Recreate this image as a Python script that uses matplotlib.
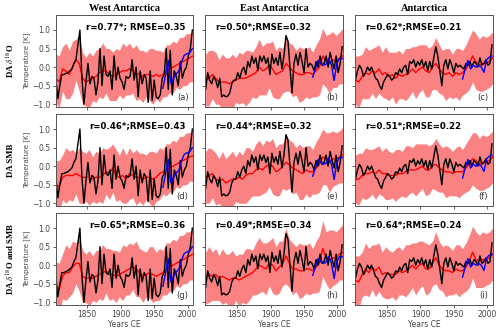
import matplotlib
matplotlib.use("Agg")
import matplotlib.pyplot as plt
import numpy as np

plt.rcParams["mathtext.fontset"] = "stix"

# --- data ----------------------------------------------------------------
# black reconstruction, one value every 3 years from 1803 to 2007
years_black = np.arange(1803, 2008, 3)
black_west = [-0.30, -0.85, -0.50, -0.20, -0.20, -0.17, -0.15, -0.10, -0.05, 0.10,
              0.20, 0.60, 1.00, -0.30, -1.00, -0.40, 0.10, -0.45, -0.25, -0.30,
              -0.75, -0.40, 0.50, -0.50, 0.30, -0.20, -0.25, -0.10, -0.60, 0.30,
              -0.35, 0.00, -0.30, -0.40, -0.60, -0.25, -0.30, -0.25, 0.20, -0.35,
              0.00, -0.80, -0.10, -0.45, -0.20, -0.30, -0.95, -0.10, -0.90, -0.35,
              -0.80, -0.85, -0.75, -0.30, -0.20, 0.50, -0.60, 0.45, -0.75, -0.10,
              -0.25, -0.50, 0.15, -0.30, -0.10, 0.00, 0.30, 0.50, 1.00]
black_east = [-0.60, -0.15, -0.35, -0.45, -0.25, -0.35, -0.55, -0.30, -0.80, -0.75,
              -0.80, -0.78, -0.70, -0.45, -0.35, -0.35, -0.15, -0.30, -0.10, 0.00,
              -0.20, 0.15, 0.00, 0.30, 0.10, 0.25, -0.10, 0.30, 0.15, 0.30,
              0.10, 0.25, -0.20, 0.35, 0.10, 0.25, 0.05, 0.40, -0.05, 0.30,
              0.85, 0.70, 0.00, -0.70, 0.10, 0.35, 0.05, 0.40, 0.15, -0.15,
              0.50, 0.00, 0.10, 0.05, -0.10, 0.15, 0.00, 0.30, 0.05, 0.10,
              0.30, 0.00, 0.40, 0.15, -0.05, 0.30, -0.15, 0.10, 0.55]
black_ant = [-0.35, -0.10, 0.05, -0.05, -0.25, -0.15, 0.00, -0.10, 0.00, -0.15,
             -0.30, -0.35, -0.50, -0.60, -0.40, -0.30, -0.20, -0.25, -0.35, -0.30,
             -0.15, -0.20, -0.05, -0.15, 0.00, 0.05, -0.20, 0.15, 0.10, 0.20,
             0.00, 0.15, 0.05, 0.20, 0.00, 0.15, -0.10, 0.15, -0.05, 0.25,
             0.55, 0.30, -0.10, -0.50, 0.05, 0.20, -0.05, 0.20, 0.05, -0.15,
             0.10, 0.00, 0.05, 0.00, -0.05, 0.10, 0.05, 0.15, 0.00, 0.15,
             0.10, 0.00, 0.25, 0.05, 0.10, 0.20, 0.05, 0.10, 0.60]

# blue instrumental series
years_blue = [1963, 1967, 1971, 1975, 1979, 1983, 1987, 1991, 1995, 1999, 2003, 2007]
blue_west = [-0.57, -0.20, 0.18, -0.45, -0.30, -0.18, -0.10, 0.15, 0.32, 0.36, 0.38, 0.50]
blue_east = [-0.27, -0.05, 0.18, 0.10, 0.05, 0.08, 0.23, 0.05, -0.36, 0.10, 0.23, 0.23]
blue_ant = [-0.32, -0.05, 0.18, -0.05, 0.05, 0.00, 0.05, 0.00, -0.14, 0.20, 0.27, 0.30]

# red DA mean, one value every 5 years from 1803 to 2008
years_da = np.arange(1803, 2009, 5)
red = {
    "a": [-0.30, -0.40, -0.05, -0.10, -0.20, 0.00, 0.20, 0.10, -0.30, -0.40,
          -0.35, -0.30, -0.25, -0.15, -0.10, -0.10, -0.20, -0.25, -0.20, -0.15,
          -0.10, -0.10, -0.05, -0.10, -0.15, -0.20, -0.25, -0.20, -0.20, -0.25,
          -0.20, -0.25, -0.20, -0.10, -0.05, 0.00, 0.05, 0.10, 0.15, 0.20,
          0.25, 0.30],
    "d": [-0.50, -0.55, -0.30, -0.25, -0.25, -0.25, -0.20, -0.25, -0.30, -0.30,
          -0.30, -0.35, -0.30, -0.30, -0.25, -0.15, -0.20, -0.05, -0.25, -0.30,
          -0.25, -0.35, -0.20, -0.25, -0.30, -0.30, -0.35, -0.30, -0.30, -0.35,
          -0.30, -0.20, -0.15, -0.10, -0.05, 0.00, 0.05, 0.10, 0.15, 0.20,
          0.25, 0.28],
    "g": [-0.55, -0.65, -0.30, -0.20, -0.20, -0.05, 0.05, 0.05, -0.30, -0.35,
          -0.35, -0.35, -0.30, -0.25, -0.20, -0.15, -0.25, -0.25, -0.30, -0.25,
          -0.20, -0.15, -0.10, -0.05, -0.10, -0.20, -0.30, -0.25, -0.20, -0.25,
          -0.30, -0.25, -0.20, -0.10, -0.05, 0.00, 0.05, 0.10, 0.15, 0.20,
          0.25, 0.30],
    "b": [-0.35, -0.30, -0.20, -0.30, -0.40, -0.40, -0.40, -0.45, -0.40, -0.35,
          -0.30, -0.30, -0.30, -0.25, -0.20, -0.15, 0.00, -0.10, -0.05, 0.05,
          -0.05, -0.20, -0.15, -0.10, 0.10, 0.00, -0.10, -0.15, -0.20, -0.20,
          -0.15, -0.15, -0.20, -0.10, 0.00, 0.30, 0.15, 0.10, 0.20, 0.15,
          0.25, 0.30],
    "e": [-0.30, -0.25, -0.20, -0.35, -0.40, -0.35, -0.45, -0.40, -0.35, -0.35,
          -0.30, -0.35, -0.25, -0.20, -0.20, -0.10, -0.05, -0.10, 0.00, 0.05,
          0.00, -0.15, -0.10, 0.00, 0.10, 0.05, -0.05, -0.10, -0.15, -0.20,
          -0.10, -0.15, -0.15, -0.05, 0.05, 0.25, 0.20, 0.10, 0.20, 0.20,
          0.25, 0.30],
    "h": [-0.35, -0.25, -0.30, -0.25, -0.35, -0.30, -0.35, -0.40, -0.35, -0.35,
          -0.40, -0.35, -0.30, -0.25, -0.20, -0.10, 0.00, -0.05, -0.10, 0.05,
          0.00, -0.15, -0.05, 0.05, 0.25, 0.05, -0.10, -0.10, -0.15, -0.15,
          -0.10, -0.10, -0.15, -0.05, 0.05, 0.45, 0.20, 0.15, 0.20, 0.20,
          0.30, 0.35],
    "c": [-0.35, -0.40, -0.25, -0.15, -0.20, -0.10, -0.15, -0.05, -0.20, -0.15,
          -0.25, -0.20, -0.30, -0.20, -0.25, -0.20, -0.15, -0.05, -0.15, -0.05,
          0.00, -0.10, -0.15, 0.00, 0.10, -0.05, -0.15, -0.20, -0.15, -0.25,
          -0.15, -0.20, -0.15, -0.05, 0.10, 0.30, 0.15, 0.05, 0.10, 0.10,
          0.15, 0.25],
    "f": [-0.35, -0.35, -0.25, -0.20, -0.20, -0.15, -0.20, -0.10, -0.20, -0.20,
          -0.25, -0.25, -0.25, -0.20, -0.20, -0.15, -0.10, -0.10, -0.10, -0.05,
          0.00, -0.10, -0.10, 0.00, 0.05, -0.05, -0.10, -0.15, -0.15, -0.20,
          -0.15, -0.15, -0.15, -0.05, 0.05, 0.20, 0.15, 0.05, 0.10, 0.10,
          0.15, 0.25],
    "i": [-0.40, -0.45, -0.25, -0.10, -0.20, -0.05, -0.15, -0.05, -0.25, -0.20,
          -0.25, -0.25, -0.25, -0.15, -0.20, -0.15, -0.10, 0.00, -0.10, 0.00,
          0.05, -0.10, -0.10, 0.05, 0.20, 0.00, -0.10, -0.15, -0.15, -0.20,
          -0.10, -0.15, -0.15, -0.05, 0.10, 0.35, 0.15, 0.10, 0.15, 0.15,
          0.20, 0.30],
}

# half width of the pink DA spread, per region
spread_west = [0.65, 0.70, 0.60, 0.75, 0.65, 0.70, 0.55, 0.75, 0.70, 0.65,
               0.75, 0.60, 0.70, 0.65, 0.75, 0.60, 0.70, 0.65, 0.70, 0.60,
               0.75, 0.65, 0.70, 0.60, 0.75, 0.65, 0.70, 0.60, 0.70, 0.75,
               0.65, 0.70, 0.60, 0.70, 0.65, 0.70, 0.60, 0.70, 0.65, 0.70,
               0.65, 0.70]
spread_east = [0.70, 0.75, 0.65, 0.70, 0.60, 0.75, 0.65, 0.70, 0.75, 0.60,
               0.70, 0.65, 0.75, 0.70, 0.60, 0.70, 0.75, 0.65, 0.70, 0.60,
               0.75, 0.65, 0.70, 0.60, 0.75, 0.65, 0.70, 0.60, 0.75, 0.70,
               0.65, 0.70, 0.60, 0.70, 0.75, 0.75, 0.70, 0.80, 0.75, 0.70,
               0.70, 0.75]
spread_ant = [0.65, 0.70, 0.60, 0.70, 0.65, 0.60, 0.70, 0.65, 0.60, 0.70,
              0.65, 0.60, 0.70, 0.65, 0.60, 0.70, 0.65, 0.60, 0.70, 0.65,
              0.60, 0.70, 0.65, 0.60, 0.70, 0.65, 0.60, 0.70, 0.65, 0.60,
              0.65, 0.70, 0.60, 0.65, 0.70, 0.70, 0.75, 0.70, 0.75, 0.70,
              0.70, 0.70]

regions = ["West Antarctica", "East Antarctica", "Antarctica"]
row_names = [r"DA $\delta^{18}$O", "DA SMB", r"DA $\delta^{18}$O and SMB"]
panel_ids = [["a", "b", "c"], ["d", "e", "f"], ["g", "h", "i"]]
stats = [["r=0.77*; RMSE=0.35", "r=0.50*;RMSE=0.32", "r=0.62*;RMSE=0.21"],
         ["r=0.46*;RMSE=0.43", "r=0.44*;RMSE=0.32", "r=0.51*;RMSE=0.22"],
         ["r=0.65*;RMSE=0.36", "r=0.49*;RMSE=0.34", "r=0.64*;RMSE=0.24"]]

blacks = [black_west, black_east, black_ant]
blues = [blue_west, blue_east, blue_ant]
spreads = [spread_west, spread_east, spread_ant]

# --- figure ---------------------------------------------------------------
fig, axes = plt.subplots(3, 3, figsize=(5.0, 3.29), dpi=100, sharex=True, sharey=True)
fig.subplots_adjust(left=0.111, right=0.986, top=0.954, bottom=0.072,
                    wspace=0.087, hspace=0.076)

for i in range(3):
    for j in range(3):
        ax = axes[i, j]
        pid = panel_ids[i][j]
        mean = np.array(red[pid])
        sp = np.array(spreads[j])
        ax.fill_between(years_da, mean - sp, mean + sp, color="#fa8282", lw=0)
        ax.plot(years_da, mean, color="red", lw=1.0)
        ax.plot(years_black, blacks[j], color="black", lw=1.0)
        ax.plot(years_blue, blues[j], color="blue", lw=1.0)

        ax.set_xlim(1802.5, 2008.5)
        ax.set_ylim(-1.08, 1.4)
        ax.set_xticks([1850, 1900, 1950, 2000])
        ax.set_yticks([-1.0, -0.5, 0.0, 0.5, 1.0])
        ax.tick_params(labelsize=5.5, length=2.5, width=0.6, colors="#444444",
                       pad=1.0)
        for s in ax.spines.values():
            s.set_color("#555555")
            s.set_linewidth(0.7)

        if j == 0:
            ax.text(0.945, 0.88, stats[i][j], transform=ax.transAxes, ha="right",
                    va="center", fontsize=6.2, fontweight="bold")
            ax.set_ylabel("Temperature [K]", fontsize=5, color="#444444", labelpad=1.5)
        else:
            ax.text(0.07, 0.88, stats[i][j], transform=ax.transAxes, ha="left",
                    va="center", fontsize=6.2, fontweight="bold")
        ax.text(0.965, 0.06, "(%s)" % pid, transform=ax.transAxes, ha="right",
                va="bottom", fontsize=6, color="#333333")
        if i == 0:
            ax.set_title(regions[j], fontsize=7.5, fontweight="bold",
                         family="Liberation Serif", pad=3)
        if i == 2:
            ax.set_xlabel("Years CE", fontsize=5.5, color="#444444", labelpad=0.5)

for i in range(3):
    box = axes[i, 0].get_position()
    fig.text(0.022, (box.y0 + box.y1) / 2, row_names[i], rotation=90, ha="center",
             va="center", fontsize=6.3, fontweight="bold", family="Liberation Serif")

fig.savefig("out.png", dpi=100)
